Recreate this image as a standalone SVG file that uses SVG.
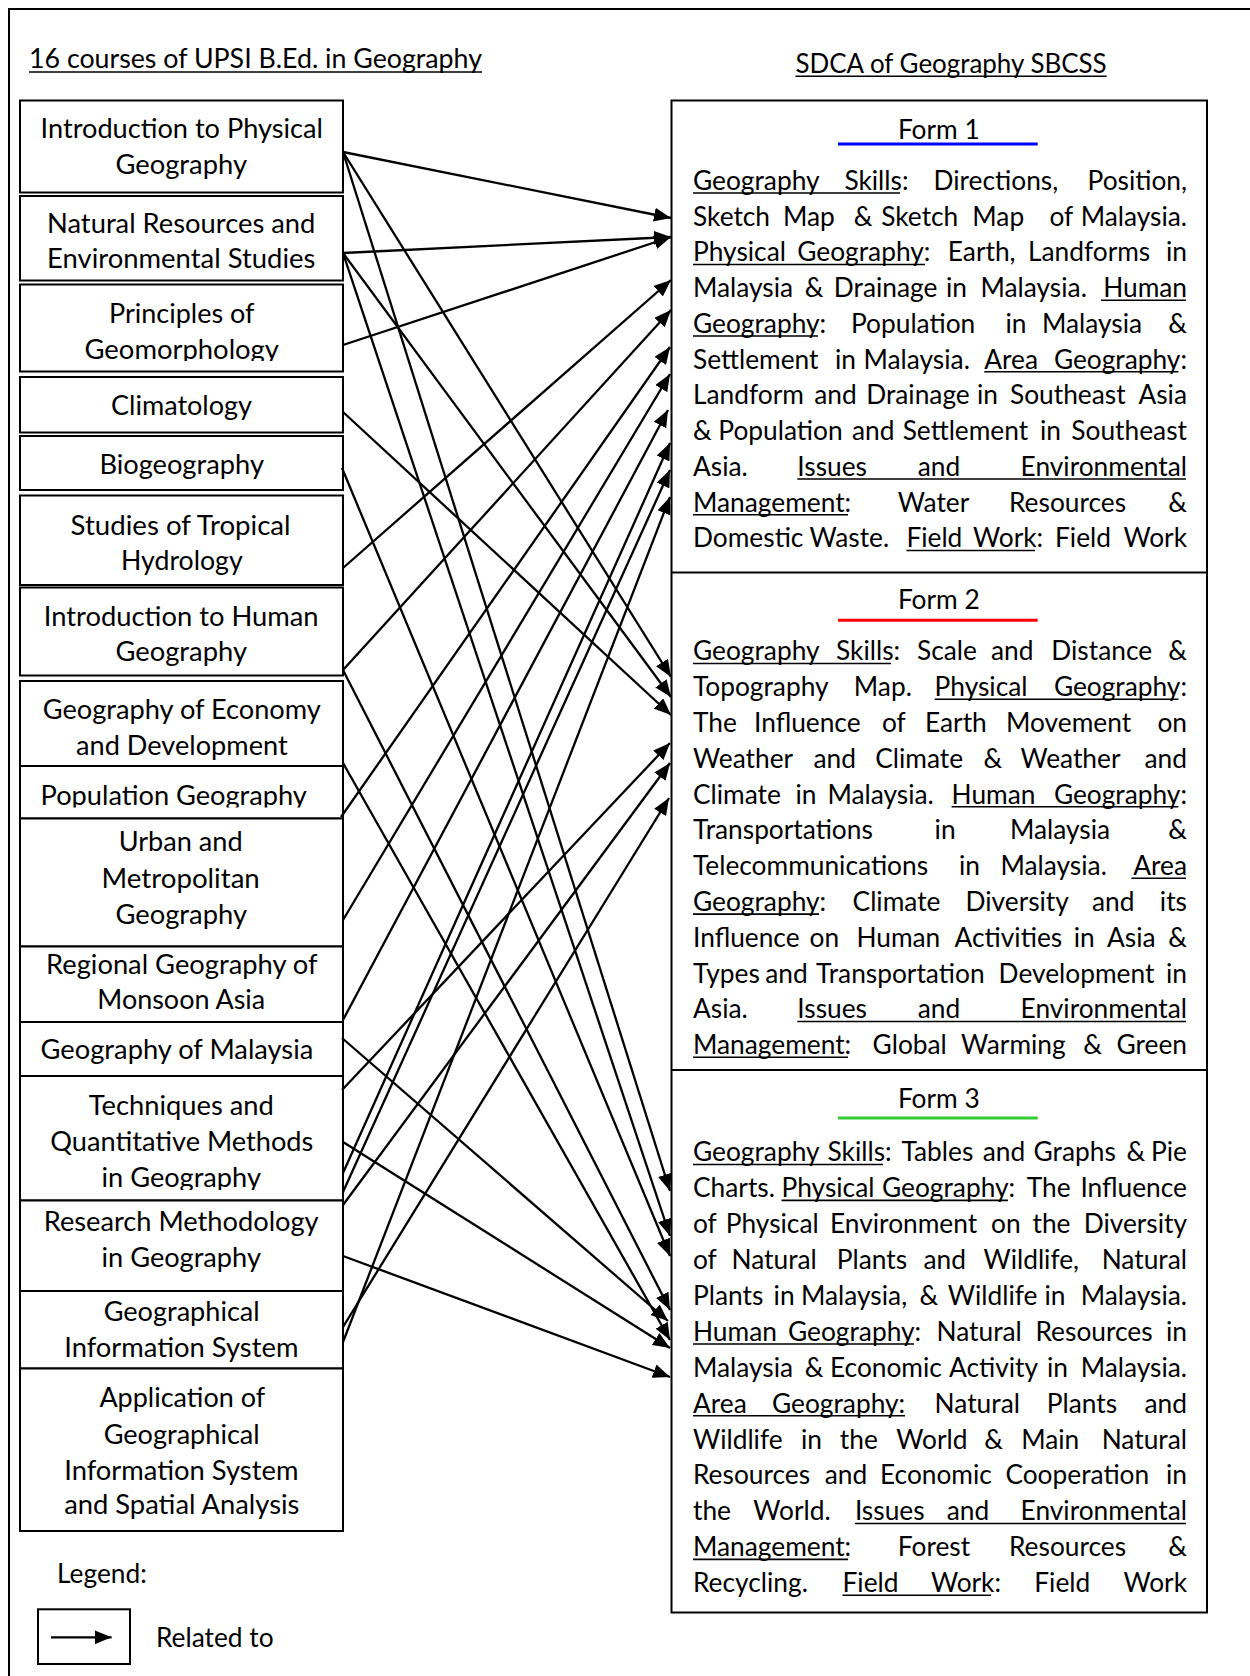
<svg xmlns="http://www.w3.org/2000/svg" width="1250" height="1676" viewBox="0 0 1250 1676">
<defs>
<style>
.box{fill:#fff;stroke:#000;stroke-width:2}
.t{font-family:Lato,'Liberation Sans',sans-serif;font-size:26.3px;fill:#000}
.ul{stroke:#000;stroke-width:1.6;fill:none}
.e{text-anchor:end}
.m{text-anchor:middle}
#connectors line{stroke:#000;stroke-width:2.3;marker-end:url(#ah)}
</style>
<marker id="ah" markerUnits="userSpaceOnUse" markerWidth="17" markerHeight="14" refX="17" refY="7" orient="auto" viewBox="0 0 17 14"><path d="M0,0 L17,7 L0,14 Z" fill="#000"/></marker>
<clipPath id="clipGeo"><rect x="20" y="280" width="330" height="81"/></clipPath>
<clipPath id="clipPop"><rect x="20" y="766" width="330" height="41.5"/></clipPath>
<clipPath id="clipTech"><rect x="20" y="1076" width="330" height="114"/></clipPath>
</defs>
<rect x="9" y="9" width="1270" height="1700" fill="#fff" stroke="#000" stroke-width="2"/>

<g id="titles">
<text class="t" x="29" y="68.3" textLength="453" lengthAdjust="spacingAndGlyphs">16 courses of UPSI B.Ed. in Geography</text>
<path class="ul" d="M29 72H482"/>
<text class="t" x="795.5" y="72.6" textLength="311.2" lengthAdjust="spacingAndGlyphs">SDCA of Geography SBCSS</text>
<path class="ul" d="M795.5 76.3H1106.7"/>
</g>

<g id="course-01"><rect class="box" x="20" y="100.5" width="323" height="92"/>
<text class="t" x="40.6" y="137.9" textLength="282.3" lengthAdjust="spacingAndGlyphs">Introduction to Physical</text>
<text class="t" x="115.5" y="174.2" textLength="131.5" lengthAdjust="spacingAndGlyphs">Geography</text></g>
<g id="course-02"><rect class="box" x="20" y="196" width="323" height="84.5"/>
<text class="t" x="47" y="233.1" textLength="268.4" lengthAdjust="spacingAndGlyphs">Natural Resources and</text>
<text class="t" x="47" y="268.3" textLength="268.4" lengthAdjust="spacingAndGlyphs">Environmental Studies</text></g>
<g id="course-03"><rect class="box" x="20" y="284.5" width="323" height="87"/>
<text class="t" x="109" y="322.9" textLength="145.5" lengthAdjust="spacingAndGlyphs">Principles of</text>
<text class="t" x="84.5" y="359.2" textLength="194.5" lengthAdjust="spacingAndGlyphs" clip-path="url(#clipGeo)">Geomorphology</text></g>
<g id="course-04"><rect class="box" x="20" y="377" width="323" height="55.5"/>
<text class="t" x="111" y="414.8" textLength="141" lengthAdjust="spacingAndGlyphs">Climatology</text></g>
<g id="course-05"><rect class="box" x="20" y="436" width="323" height="54"/>
<text class="t" x="99.4" y="473.6" textLength="164.6" lengthAdjust="spacingAndGlyphs">Biogeography</text></g>
<g id="course-06"><rect class="box" x="20" y="495.5" width="323" height="89.5"/>
<text class="t" x="70.6" y="534.6" textLength="220" lengthAdjust="spacingAndGlyphs">Studies of Tropical</text>
<text class="t" x="121" y="569.9" textLength="121.7" lengthAdjust="spacingAndGlyphs">Hydrology</text></g>
<g id="course-07"><rect class="box" x="20" y="587.5" width="323" height="88"/>
<text class="t" x="43.8" y="625.5" textLength="274.8" lengthAdjust="spacingAndGlyphs">Introduction to Human</text>
<text class="t" x="115.5" y="660.8" textLength="131.5" lengthAdjust="spacingAndGlyphs">Geography</text></g>
<g id="course-08"><rect class="box" x="20" y="681" width="323" height="85"/>
<text class="t" x="42.8" y="718.5" textLength="278" lengthAdjust="spacingAndGlyphs">Geography of Economy</text>
<text class="t" x="76" y="754.9" textLength="211.7" lengthAdjust="spacingAndGlyphs">and Development</text></g>
<g id="course-09"><rect class="box" x="20" y="766" width="323" height="52.5"/>
<text class="t" x="40.6" y="805.1" textLength="266.3" lengthAdjust="spacingAndGlyphs" clip-path="url(#clipPop)">Population Geography</text></g>
<g id="course-10"><rect class="box" x="20" y="818.5" width="323" height="128"/>
<text class="t" x="118.7" y="851.1" textLength="124" lengthAdjust="spacingAndGlyphs">Urban and</text>
<text class="t" x="101.6" y="887.5" textLength="158.2" lengthAdjust="spacingAndGlyphs">Metropolitan</text>
<text class="t" x="115.5" y="923.8" textLength="131.5" lengthAdjust="spacingAndGlyphs">Geography</text></g>
<g id="course-11"><rect class="box" x="20" y="946.5" width="323" height="75.5"/>
<text class="t" x="46" y="974.1" textLength="271.6" lengthAdjust="spacingAndGlyphs">Regional Geography of</text>
<text class="t" x="97.3" y="1009.4" textLength="167.9" lengthAdjust="spacingAndGlyphs">Monsoon Asia</text></g>
<g id="course-12"><rect class="box" x="20" y="1022" width="323" height="54"/>
<text class="t" x="40.6" y="1058.5" textLength="272.7" lengthAdjust="spacingAndGlyphs">Geography of Malaysia</text></g>
<g id="course-13"><rect class="box" x="20" y="1076" width="323" height="124.5"/>
<text class="t" x="88.8" y="1115.2" textLength="185" lengthAdjust="spacingAndGlyphs">Techniques and</text>
<text class="t" x="50.3" y="1150.5" textLength="263" lengthAdjust="spacingAndGlyphs">Quantitative Methods</text>
<text class="t" x="101.6" y="1186.9" textLength="159.3" lengthAdjust="spacingAndGlyphs" clip-path="url(#clipTech)">in Geography</text></g>
<g id="course-14"><rect class="box" x="20" y="1200.5" width="323" height="90.5"/>
<text class="t" x="43.8" y="1230.7" textLength="274.8" lengthAdjust="spacingAndGlyphs">Research Methodology</text>
<text class="t" x="101.6" y="1267.1" textLength="159.3" lengthAdjust="spacingAndGlyphs">in Geography</text></g>
<g id="course-15"><rect class="box" x="20" y="1291" width="323" height="77.5"/>
<text class="t" x="103.7" y="1320.5" textLength="156" lengthAdjust="spacingAndGlyphs">Geographical</text>
<text class="t" x="64.2" y="1356.9" textLength="234.2" lengthAdjust="spacingAndGlyphs">Information System</text></g>
<g id="course-16"><rect class="box" x="20" y="1368.5" width="323" height="162.5"/>
<text class="t" x="99.4" y="1407.1" textLength="165.7" lengthAdjust="spacingAndGlyphs">Application of</text>
<text class="t" x="103.7" y="1443.5" textLength="156" lengthAdjust="spacingAndGlyphs">Geographical</text>
<text class="t" x="64.2" y="1479.9" textLength="234.2" lengthAdjust="spacingAndGlyphs">Information System</text>
<text class="t" x="64.2" y="1514.1" textLength="235.2" lengthAdjust="spacingAndGlyphs">and Spatial Analysis</text></g>

<g id="sdca">
<rect class="box" x="671.5" y="100.5" width="535.5" height="1512"/>
<path d="M671.5 572.5H1207M671.5 1070H1207" stroke="#000" stroke-width="2" fill="none"/>
</g>

<g id="form-1">
<text class="t m" x="938.8" y="139.3">Form 1</text>
<path d="M838 144H1037.7" stroke="#0000ff" stroke-width="3"/>
<text class="t" y="189.8"><tspan x="693">Geography </tspan><tspan x="844.4">Skills: </tspan><tspan x="933.5">Directions, </tspan><tspan x="1187" class="e">Position,</tspan></text>
<text class="t" y="225.55"><tspan x="693">Sketch </tspan><tspan x="783">Map </tspan><tspan x="853.8">&amp; </tspan><tspan x="881.2">Sketch </tspan><tspan x="972.3">Map </tspan><tspan x="1049.4">of </tspan><tspan x="1187" class="e">Malaysia.</tspan></text>
<text class="t" y="261.3"><tspan x="693">Physical </tspan><tspan x="797.3">Geography: </tspan><tspan x="947.8">Earth, </tspan><tspan x="1028">Landforms </tspan><tspan x="1187" class="e">in</tspan></text>
<text class="t" y="297.05"><tspan x="693">Malaysia </tspan><tspan x="804.8">&amp; </tspan><tspan x="833.8">Drainage </tspan><tspan x="946">in </tspan><tspan x="980.5">Malaysia. </tspan><tspan x="1187" class="e">Human</tspan></text>
<text class="t" y="332.8"><tspan x="693">Geography: </tspan><tspan x="851">Population </tspan><tspan x="1005.4">in </tspan><tspan x="1041.9">Malaysia </tspan><tspan x="1187" class="e">&amp;</tspan></text>
<text class="t" y="368.55"><tspan x="693">Settlement </tspan><tspan x="835">in </tspan><tspan x="863.5">Malaysia. </tspan><tspan x="984.3">Area </tspan><tspan x="1187" class="e">Geography:</tspan></text>
<text class="t" y="404.3"><tspan x="693">Landform </tspan><tspan x="814.3">and </tspan><tspan x="866.2">Drainage </tspan><tspan x="977">in </tspan><tspan x="1010">Southeast </tspan><tspan x="1187" class="e">Asia</tspan></text>
<text class="t" y="440.05"><tspan x="693">&amp; </tspan><tspan x="718.3">Population </tspan><tspan x="851.9">and </tspan><tspan x="902.7">Settlement </tspan><tspan x="1040">in </tspan><tspan x="1187" class="e">Southeast</tspan></text>
<text class="t" y="475.8"><tspan x="693">Asia. </tspan><tspan x="797.3">Issues </tspan><tspan x="917.7">and </tspan><tspan x="1187" class="e">Environmental</tspan></text>
<text class="t" y="511.55"><tspan x="693">Management: </tspan><tspan x="897.8">Water </tspan><tspan x="1009">Resources </tspan><tspan x="1187" class="e">&amp;</tspan></text>
<text class="t" y="547.3"><tspan x="693">Domestic </tspan><tspan x="809.5">Waste. </tspan><tspan x="906.4">Field </tspan><tspan x="973">Work: </tspan><tspan x="1055">Field </tspan><tspan x="1187" class="e">Work</tspan></text>
<path class="ul" d="M693 193H900M693 264.5H925M1101 300.25H1186M693 336H818M984.3 371.75H1178.4M797.3 479H1186M693 514.75H848M906.4 550.5H1035"/>
</g>

<g id="form-2">
<text class="t m" x="938.8" y="609.3">Form 2</text>
<path d="M838 620.3H1037.7" stroke="#ff0000" stroke-width="3"/>
<text class="t" y="660.3"><tspan x="693">Geography </tspan><tspan x="836">Skills: </tspan><tspan x="917">Scale </tspan><tspan x="991">and </tspan><tspan x="1051.3">Distance </tspan><tspan x="1187" class="e">&amp;</tspan></text>
<text class="t" y="696.1"><tspan x="693">Topography </tspan><tspan x="853.8">Map. </tspan><tspan x="934.6">Physical </tspan><tspan x="1187" class="e">Geography:</tspan></text>
<text class="t" y="731.9"><tspan x="693">The </tspan><tspan x="754">Influence </tspan><tspan x="882">of </tspan><tspan x="925">Earth </tspan><tspan x="1006">Movement </tspan><tspan x="1187" class="e">on</tspan></text>
<text class="t" y="767.7"><tspan x="693">Weather </tspan><tspan x="813.5">and </tspan><tspan x="875.2">Climate </tspan><tspan x="983.6">&amp; </tspan><tspan x="1020.4">Weather </tspan><tspan x="1187" class="e">and</tspan></text>
<text class="t" y="803.5"><tspan x="693">Climate </tspan><tspan x="795.4">in </tspan><tspan x="827.4">Malaysia. </tspan><tspan x="951.6">Human </tspan><tspan x="1187" class="e">Geography:</tspan></text>
<text class="t" y="839.3"><tspan x="693">Transportations </tspan><tspan x="934.6">in </tspan><tspan x="1009.9">Malaysia </tspan><tspan x="1187" class="e">&amp;</tspan></text>
<text class="t" y="875.1"><tspan x="693">Telecommunications </tspan><tspan x="959">in </tspan><tspan x="1000.5">Malaysia. </tspan><tspan x="1187" class="e">Area</tspan></text>
<text class="t" y="910.9"><tspan x="693">Geography: </tspan><tspan x="852.6">Climate </tspan><tspan x="965.5">Diversity </tspan><tspan x="1091.9">and </tspan><tspan x="1187" class="e">its</tspan></text>
<text class="t" y="946.7"><tspan x="693">Influence </tspan><tspan x="809.5">on </tspan><tspan x="856.4">Human </tspan><tspan x="954.6">Activities </tspan><tspan x="1073.8">in </tspan><tspan x="1107">Asia </tspan><tspan x="1187" class="e">&amp;</tspan></text>
<text class="t" y="982.5"><tspan x="693">Types </tspan><tspan x="765.3">and </tspan><tspan x="816.1">Transportation </tspan><tspan x="998.6">Development </tspan><tspan x="1187" class="e">in</tspan></text>
<text class="t" y="1018.3"><tspan x="693">Asia. </tspan><tspan x="797.3">Issues </tspan><tspan x="917.7">and </tspan><tspan x="1187" class="e">Environmental</tspan></text>
<text class="t" y="1054.1"><tspan x="693">Management: </tspan><tspan x="872.6">Global </tspan><tspan x="961">Warming </tspan><tspan x="1083.2">&amp; </tspan><tspan x="1187" class="e">Green</tspan></text>
<path class="ul" d="M693 663.5H891M934.6 699.3H1178.4M951.6 806.7H1178.4M1131.4 878.3H1186M693 914.1H819M797.3 1021.5H1186M693 1057.3H848"/>
</g>

<g id="form-3">
<text class="t m" x="938.8" y="1107.7">Form 3</text>
<path d="M838 1118.1H1037.7" stroke="#33cc33" stroke-width="3"/>
<text class="t" y="1161.3"><tspan x="693">Geography </tspan><tspan x="827.5">Skills: </tspan><tspan x="901.5">Tables </tspan><tspan x="982.8">and </tspan><tspan x="1033.6">Graphs </tspan><tspan x="1126.5">&amp; </tspan><tspan x="1187" class="e">Pie</tspan></text>
<text class="t" y="1197.2"><tspan x="693">Charts. </tspan><tspan x="781.5">Physical </tspan><tspan x="882">Geography: </tspan><tspan x="1026.8">The </tspan><tspan x="1187" class="e">Influence</tspan></text>
<text class="t" y="1233.1"><tspan x="693">of </tspan><tspan x="725.8">Physical </tspan><tspan x="830">Environment </tspan><tspan x="991">on </tspan><tspan x="1032.5">the </tspan><tspan x="1187" class="e">Diversity</tspan></text>
<text class="t" y="1269"><tspan x="693">of </tspan><tspan x="731.5">Natural </tspan><tspan x="836.8">Plants </tspan><tspan x="923.4">and </tspan><tspan x="983.5">Wildlife, </tspan><tspan x="1187" class="e">Natural</tspan></text>
<text class="t" y="1304.9"><tspan x="693">Plants </tspan><tspan x="773.6">in </tspan><tspan x="801">Malaysia, </tspan><tspan x="919.6">&amp; </tspan><tspan x="947.8">Wildlife </tspan><tspan x="1044.5">in </tspan><tspan x="1187" class="e">Malaysia.</tspan></text>
<text class="t" y="1340.8"><tspan x="693">Human </tspan><tspan x="788">Geography: </tspan><tspan x="936.5">Natural </tspan><tspan x="1035.5">Resources </tspan><tspan x="1187" class="e">in</tspan></text>
<text class="t" y="1376.7"><tspan x="693">Malaysia </tspan><tspan x="804.8">&amp; </tspan><tspan x="830">Economic </tspan><tspan x="949">Activity </tspan><tspan x="1047">in </tspan><tspan x="1187" class="e">Malaysia.</tspan></text>
<text class="t" y="1412.6"><tspan x="693">Area </tspan><tspan x="772">Geography: </tspan><tspan x="934.6">Natural </tspan><tspan x="1046.8">Plants </tspan><tspan x="1187" class="e">and</tspan></text>
<text class="t" y="1448.5"><tspan x="693">Wildlife </tspan><tspan x="801">in </tspan><tspan x="839.8">the </tspan><tspan x="896.3">World </tspan><tspan x="984.3">&amp; </tspan><tspan x="1021.2">Main </tspan><tspan x="1187" class="e">Natural</tspan></text>
<text class="t" y="1484.4"><tspan x="693">Resources </tspan><tspan x="824.8">and </tspan><tspan x="880">Economic </tspan><tspan x="1005.4">Cooperation </tspan><tspan x="1187" class="e">in</tspan></text>
<text class="t" y="1520.3"><tspan x="693">the </tspan><tspan x="753.3">World. </tspan><tspan x="854.9">Issues </tspan><tspan x="946.7">and </tspan><tspan x="1187" class="e">Environmental</tspan></text>
<text class="t" y="1556.2"><tspan x="693">Management: </tspan><tspan x="897.8">Forest </tspan><tspan x="1009">Resources </tspan><tspan x="1187" class="e">&amp;</tspan></text>
<text class="t" y="1592.1"><tspan x="693">Recycling. </tspan><tspan x="842.5">Field </tspan><tspan x="930.9">Work: </tspan><tspan x="1034.3">Field </tspan><tspan x="1187" class="e">Work</tspan></text>
<path class="ul" d="M693 1164.5H883M781.5 1200.4H1008M693 1344H914M693 1415.8H905M854.9 1523.5H1186M693 1559.4H848M842.5 1595.3H991"/>
</g>

<g id="connectors">
<line x1="343" y1="152" x2="671" y2="218"/>
<line x1="343" y1="152" x2="671" y2="677"/>
<line x1="343" y1="152" x2="670" y2="1191"/>
<line x1="343" y1="253" x2="671" y2="237"/>
<line x1="343" y1="253" x2="671" y2="697"/>
<line x1="343" y1="253" x2="670" y2="1236"/>
<line x1="343" y1="345" x2="671" y2="237"/>
<line x1="343" y1="412" x2="671" y2="715"/>
<line x1="342" y1="468" x2="670" y2="1256"/>
<line x1="343" y1="568" x2="671" y2="280"/>
<line x1="343" y1="670" x2="671" y2="310"/>
<line x1="343" y1="670" x2="670" y2="1310"/>
<line x1="343" y1="763" x2="670" y2="1340"/>
<line x1="341" y1="817" x2="670" y2="347"/>
<line x1="343" y1="920" x2="670" y2="374"/>
<line x1="343" y1="1020" x2="668" y2="410"/>
<line x1="342" y1="1038" x2="668" y2="1321"/>
<line x1="342" y1="1090" x2="670" y2="743"/>
<line x1="343" y1="1142" x2="670" y2="1348"/>
<line x1="343" y1="1173" x2="670" y2="443"/>
<line x1="343" y1="1192" x2="670" y2="470"/>
<line x1="343" y1="1205" x2="670" y2="763"/>
<line x1="343" y1="1256" x2="670" y2="1377"/>
<line x1="343" y1="1327" x2="669" y2="798"/>
<line x1="343" y1="1342" x2="670" y2="497"/>
</g>

<g id="legend">
<text class="t" x="57" y="1583">Legend:</text>
<rect class="box" x="38" y="1609.3" width="92" height="54.7"/>
<line x1="51" y1="1637.3" x2="111.6" y2="1637.3" stroke="#000" stroke-width="2.3" marker-end="url(#ah)"/>
<text class="t" x="156" y="1646.7">Related to</text>
</g>
</svg>
